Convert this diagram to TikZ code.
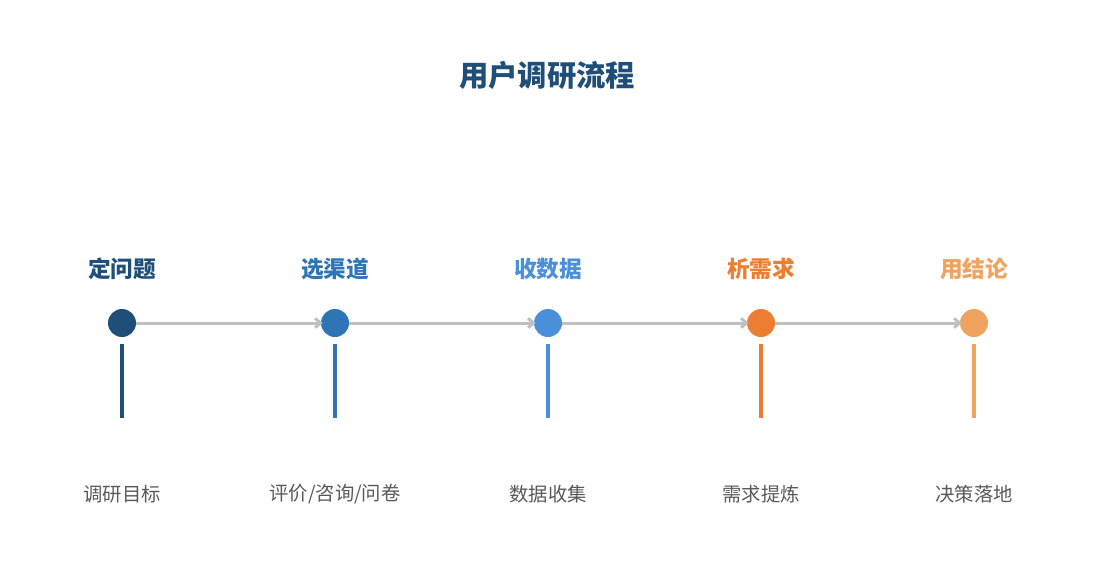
\documentclass[tikz,border=0pt]{standalone}
\usepackage{fontspec}
\setmainfont{Noto Sans CJK SC}
\usetikzlibrary{arrows.meta}

\definecolor{cA}{HTML}{1F4E79}
\definecolor{cB}{HTML}{2E75B6}
\definecolor{cC}{HTML}{4A90D9}
\definecolor{cD}{HTML}{ED7D31}
\definecolor{cE}{HTML}{F0A35E}
\definecolor{linkgray}{HTML}{C0C0C0}
\definecolor{notegray}{HTML}{595959}

\tikzset{
	dot/.style={circle, inner sep=0pt, minimum size=28*0.75pt},
	head/.style={font=\bfseries\fontsize{17}{20}\selectfont},
	note/.style={font=\fontsize{14.5}{17}\selectfont, text=notegray},
	link/.style={draw=linkgray, line width=3*0.75pt, -{Straight Barb[length=4pt, width=7pt]}, shorten >=-1.5pt},
	stem/.style={line width=4*0.75pt}
}

\begin{document}
\begin{tikzpicture}[x=0.75pt, y=-0.75pt]
		\useasboundingbox (0, 0) rectangle (1095, 585);
		
		\node[font=\bfseries\fontsize{22}{26}\selectfont, text=cA] (title) at (547, 75) {用户调研流程};
		
		\node[dot, fill=cA] (dot1) at (122, 323) {};
		\node[dot, fill=cB] (dot2) at (335, 323) {};
		\node[dot, fill=cC] (dot3) at (548, 323) {};
		\node[dot, fill=cD] (dot4) at (761, 323) {};
		\node[dot, fill=cE] (dot5) at (974, 323) {};
		
		\draw[link] (dot1) -- (dot2);
		\draw[link] (dot2) -- (dot3);
		\draw[link] (dot3) -- (dot4);
		\draw[link] (dot4) -- (dot5);
		
		\node[head, text=cA] (head1) at (122, 269) {定问题};
		\node[head, text=cB] (head2) at (335, 269) {选渠道};
		\node[head, text=cC] (head3) at (548, 269) {收数据};
		\node[head, text=cD] (head4) at (761, 269) {析需求};
		\node[head, text=cE] (head5) at (974, 269) {用结论};
		
		\coordinate (top1) at (122, 344);
		\coordinate (top2) at (335, 344);
		\coordinate (top3) at (548, 344);
		\coordinate (top4) at (761, 344);
		\coordinate (top5) at (974, 344);
		\coordinate (end1) at (122, 418);
		\coordinate (end2) at (335, 418);
		\coordinate (end3) at (548, 418);
		\coordinate (end4) at (761, 418);
		\coordinate (end5) at (974, 418);
		
		\draw[stem, cA] (top1) -- (end1);
		\draw[stem, cB] (top2) -- (end2);
		\draw[stem, cC] (top3) -- (end3);
		\draw[stem, cD] (top4) -- (end4);
		\draw[stem, cE] (top5) -- (end5);
		
		\node[note] (note1) at (122, 494) {调研目标};
		\node[note] (note2) at (335, 494) {评价/咨询/问卷};
		\node[note] (note3) at (548, 494) {数据收集};
		\node[note] (note4) at (761, 494) {需求提炼};
		\node[note] (note5) at (974, 494) {决策落地};
	\end{tikzpicture}
\end{document}
